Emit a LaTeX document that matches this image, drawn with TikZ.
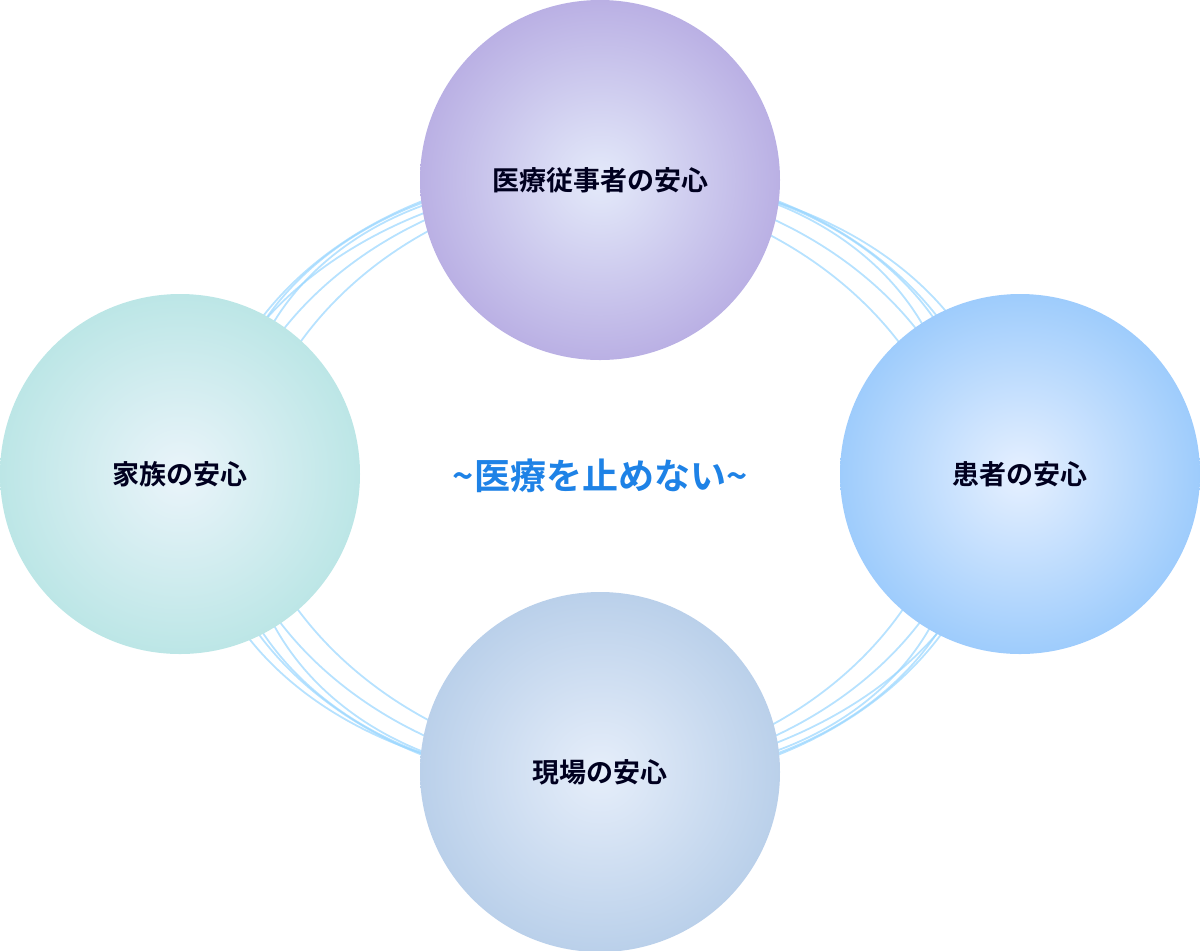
\documentclass[tikz,border=0pt]{standalone}
\usepackage{fontspec}
\newfontfamily\cjk{Noto Sans CJK JP}[BoldFont={* Bold}]
\begin{document}
\begin{tikzpicture}[x=0.5pt,y=-0.5pt,
  ball/.style={circle,minimum size=180pt,inner sep=0pt,font=\cjk\bfseries\fontsize{13.5pt}{15pt}\selectfont,text=black!70!blue!40!black},
  ring/.style={draw=blue!40!cyan!40!white,line width=0.9pt,opacity=0.7}]
\useasboundingbox (0,0) rectangle (1200,950);
\foreach \a/\rx/\ry in {0/395/310, 8/380/300, -8/380/300, 15/360/295, -15/365/290, 4/405/300}{
  \draw[ring,rotate around={\a:(600,478)}] (600,478) ellipse [x radius=\rx, y radius=\ry];
}
\node[ball,inner color={rgb,255:red,228;green,234;blue,250},outer color={rgb,255:red,186;green,176;blue,228}] (top) at (600,180) {医療従事者の安心};
\node[ball,inner color={rgb,255:red,234;green,244;blue,250},outer color={rgb,255:red,188;green,230;blue,230}] (left) at (180,474) {家族の安心};
\node[ball,inner color={rgb,255:red,230;green,240;blue,255},outer color={rgb,255:red,158;green,204;blue,252}] (right) at (1020,474) {患者の安心};
\node[ball,inner color={rgb,255:red,230;green,238;blue,250},outer color={rgb,255:red,186;green,208;blue,234}] (bot) at (600,772) {現場の安心};
\node[font=\cjk\bfseries\fontsize{18pt}{20pt}\selectfont,text={rgb,255:red,30;green,130;blue,230}] (mid) at (600,476) {\textasciitilde 医療を止めない\textasciitilde};
\end{tikzpicture}
\end{document}
